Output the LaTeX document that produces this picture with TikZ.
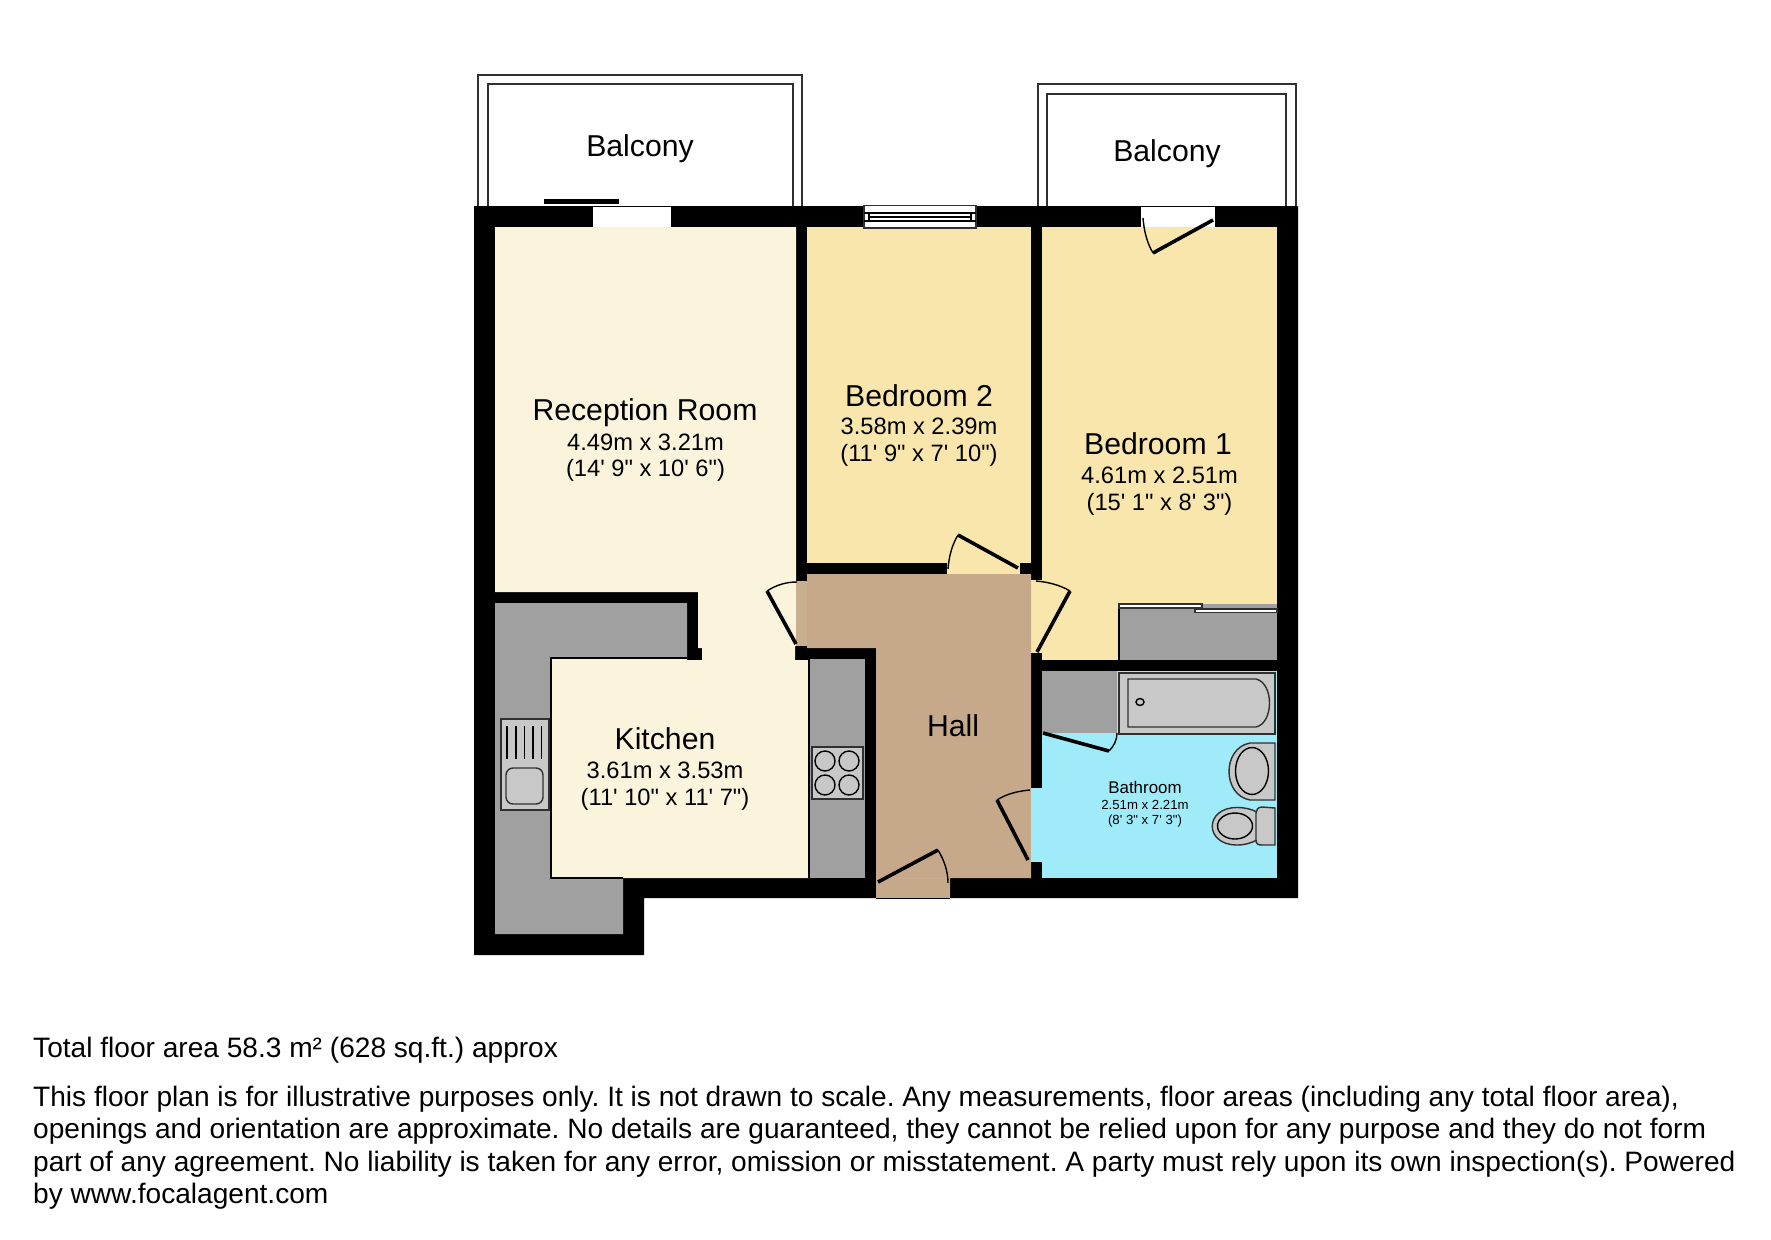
\documentclass[tikz,border=0pt]{standalone}
\usepackage{fontspec}
\setmainfont[Ligatures=TeXOff]{Liberation Sans}
\frenchspacing
\definecolor{creamroom}{HTML}{FAF4DC}
\definecolor{bedroom}{HTML}{F9E6AC}
\definecolor{hallroom}{HTML}{C5A98A}
\definecolor{hallsill}{HTML}{C9AE90}
\definecolor{bathroom}{HTML}{A0EBF9}
\definecolor{unitgrey}{HTML}{A0A0A0}
\definecolor{fixture}{HTML}{C8C8C8}
\definecolor{thin}{HTML}{303030}
\tikzset{
  wall/.style={fill=black,draw=none},
  leaf/.style={line width=3.6pt,black,line cap=butt},
  swing/.style={line width=1.4pt,black},
  thinline/.style={draw=thin,line width=1.3pt},
  fixt/.style={fill=fixture,draw=thin,line width=1.4pt},
  big/.style={anchor=base,inner sep=0pt,font=\fontsize{30.2}{32}\selectfont},
  dim/.style={anchor=base,inner sep=0pt,font=\fontsize{23.7}{26}\selectfont},
  smallname/.style={anchor=base,inner sep=0pt,font=\fontsize{16.9}{18}\selectfont},
  smalldim/.style={anchor=base,inner sep=0pt,font=\fontsize{13.2}{15}\selectfont},
  note/.style={anchor=base west,inner sep=0pt,font=\fontsize{28.1}{30}\selectfont},
}
\begin{document}
\begin{tikzpicture}[x=1pt,y=-1pt]
\useasboundingbox (0,0) rectangle (1771,1239);
\fill[white] (0,0) rectangle (1771,1239);
% balconies
\draw[thinline] (478,206) -- (478,75) -- (802,75) -- (802,206);
\draw[thinline] (488,206) -- (488,84) -- (793,84) -- (793,206);
\draw[thinline] (1038,206) -- (1038,84) -- (1296,84) -- (1296,206);
\draw[thinline] (1047,206) -- (1047,94) -- (1286,94) -- (1286,206);
% outer wall mass
\fill[wall] (474,206) -- (1298,206) -- (1298,898) -- (644,898) -- (644,955) -- (474,955) -- cycle;
% rooms
\fill[creamroom] (495,227) -- (796,227) -- (796,646) -- (795,646) -- (795,660) -- (809,660) -- (809,878) -- (551,878) -- (551,658) -- (687,658) -- (687,660) -- (702,660) -- (702,648) -- (698,648) -- (698,592) -- (495,592) -- cycle;
\fill[unitgrey] (495,603) -- (687,603) -- (687,658) -- (551,658) -- (551,878) -- (623,878) -- (623,934) -- (495,934) -- cycle;
\draw[thin,line width=1.2pt] (687,658) -- (551,658) -- (551,878) -- (623,878);
\fill[bedroom] (807,227) rectangle (1031,563);
\fill[bedroom] (947,563) rectangle (1020,574);
\fill[bedroom] (1042,227) rectangle (1277,660);
\fill[bedroom] (1031,580) rectangle (1042,653);
\fill[hallroom] (807,574) -- (1031,574) -- (1031,878) -- (950,878) -- (950,898) -- (876,898) -- (876,648) -- (807,648) -- cycle;
\fill[hallsill] (796,581) rectangle (807,646);
\fill[hallsill] (876,878) rectangle (950,879);
\draw[thin,line width=1pt] (876,898) -- (950,898);
\fill[bathroom] (1042,671) rectangle (1277,878);
\fill[bathroom] (1031,788) rectangle (1042,862);
\fill[unitgrey] (809,659) rectangle (865,878);
\draw[thin,line width=1.2pt] (809,659) -- (809,878);
\fill[unitgrey] (1119,608) rectangle (1277,660);
\fill[unitgrey] (1042,671) rectangle (1117,733);
% openings to balconies
\fill[white] (593,207) rectangle (671,227);
\fill[white] (1141,207) rectangle (1215,227);
\fill[wall] (544,199) rectangle (619,203.5);
% bedroom 2 window
\filldraw[fill=white,draw=thin,line width=1.2pt] (864,205.5) rectangle (976,228);
\draw[thin,line width=1.2pt] (864,213) -- (976,213) (864,221) -- (976,221) (869,213) -- (869,221) (971,213) -- (971,221) (869,217) -- (971,217);
% built-in wardrobe sliders
\fill[unitgrey] (1119,604) rectangle (1277,608);
\draw[thin,line width=1.2pt] (1119,660) -- (1119,604);
\filldraw[fill=white,draw=thin,line width=1.2pt] (1119,604) rectangle (1202,608);
\filldraw[fill=white,draw=thin,line width=1.2pt] (1195,609) rectangle (1277,612.5);
% doors
\draw[leaf] (1213,220) -- (1153,253);
\draw[swing] (1153,253) .. controls (1147,243) and (1144,231) .. (1143,218);
\draw[leaf] (1018,568) -- (958,535);
\draw[swing] (958,535) .. controls (952,545) and (949,556) .. (948,569);
\draw[leaf] (796,644) -- (767,591);
\draw[swing] (767,591) .. controls (776,585) and (786,582) .. (797,582);
\draw[leaf] (1037,652) -- (1070,591);
\draw[swing] (1070,591) .. controls (1060,585) and (1048,582) .. (1036,581);
\draw[leaf] (1028,860) -- (997,800);
\draw[swing] (997,800) .. controls (1006,794) and (1018,791) .. (1030,790);
\draw[leaf] (878,882) -- (938,850);
\draw[swing] (938,850) .. controls (944,860) and (948,871) .. (948,883);
\draw[leaf] (1043,733) -- (1109,751);
\draw[swing] (1109,751) .. controls (1114,746) and (1117,740) .. (1117,733);
% bath
\filldraw[fixt] (1119,673) rectangle (1275,734);
\draw[fixt] (1128,679) -- (1256,679) .. controls (1274,683) and (1274,723) .. (1256,727) -- (1128,727) -- cycle;
\draw[thin,line width=1.4pt] (1140,702) ellipse (4pt and 3.5pt);
% basin
\draw[fixt] (1275,743) -- (1250,743) .. controls (1222,748) and (1222,795) .. (1250,800) -- (1275,800) -- cycle;
\draw[thin,line width=1.4pt] (1252,771) ellipse (16.5pt and 23.5pt);
% toilet
\draw[fixt] (1237,807.5) .. controls (1204,807.5) and (1204,845) .. (1237,845) .. controls (1245,845) and (1251,843) .. (1257,840) -- (1257,812) .. controls (1251,809) and (1245,807.5) .. (1237,807.5) -- cycle;
\draw[thin,line width=1.4pt] (1235,826) ellipse (17.5pt and 13pt);
\draw[fixt] (1275,808) -- (1262,807) .. controls (1258,807) and (1256,810) .. (1256,813) -- (1256,840) .. controls (1256,844) and (1258,845) .. (1262,845) -- (1275,845) -- cycle;
% sink
\filldraw[fixt] (501,719) rectangle (549,810);
\draw[thin,line width=1.4pt] (507,726) -- (507,759) (516,726) -- (516,759) (524.5,726) -- (524.5,759) (533,726) -- (533,759) (541.5,726) -- (541.5,759);
\draw[fixt,rounded corners=7pt] (506,768) rectangle (543,804);
% hob
\filldraw[fixt] (812,747) rectangle (863,799);
\foreach \cx in {825,849} \foreach \cy in {761,785} \draw[thin,line width=1.4pt] (\cx,\cy) circle (10pt);
% labels
\node[big] (balconyA) at (640,156) {Balcony};
\node[big] (balconyB) at (1167,161) {Balcony};
\node[big] (reception) at (645,420) {Reception Room};
\node[dim] (receptionM) at (645.5,450) {4.49m x 3.21m};
\node[dim] (receptionF) at (645.5,476) {(14' 9" x 10' 6")};
\node[big] (bedtwo) at (919,406) {Bedroom 2};
\node[dim] (bedtwoM) at (919,434) {3.58m x 2.39m};
\node[dim] (bedtwoF) at (919,461) {(11' 9" x 7' 10")};
\node[big] (bedone) at (1158,454) {Bedroom 1};
\node[dim] (bedoneM) at (1159.5,483) {4.61m x 2.51m};
\node[dim] (bedoneF) at (1159.5,510) {(15' 1" x 8' 3")};
\node[big] (kitchen) at (665,749) {Kitchen};
\node[dim] (kitchenM) at (665,778) {3.61m x 3.53m};
\node[dim] (kitchenF) at (665,805) {(11' 10" x 11' 7")};
\node[big] (hall) at (953,736) {Hall};
\node[smallname] (bath) at (1145,793) {Bathroom};
\node[smalldim] (bathM) at (1145,809) {2.51m x 2.21m};
\node[smalldim] (bathF) at (1145,824) {(8' 3" x 7' 3")};
\node[note] (total) at (33,1057) {Total floor area 58.3 m² (628 sq.ft.) approx};
\node[note] (l1) at (33,1106) {This floor plan is for illustrative purposes only. It is not drawn to scale. Any measurements, floor areas (including any total floor area),};
\node[note] (l2) at (33,1138) {openings and orientation are approximate. No details are guaranteed, they cannot be relied upon for any purpose and they do not form};
\node[note] (l3) at (33,1171) {part of any agreement. No liability is taken for any error, omission or misstatement. A party must rely upon its own inspection(s). Powered};
\node[note] (l4) at (33,1203) {by www.focalagent.com};
\end{tikzpicture}
\end{document}
